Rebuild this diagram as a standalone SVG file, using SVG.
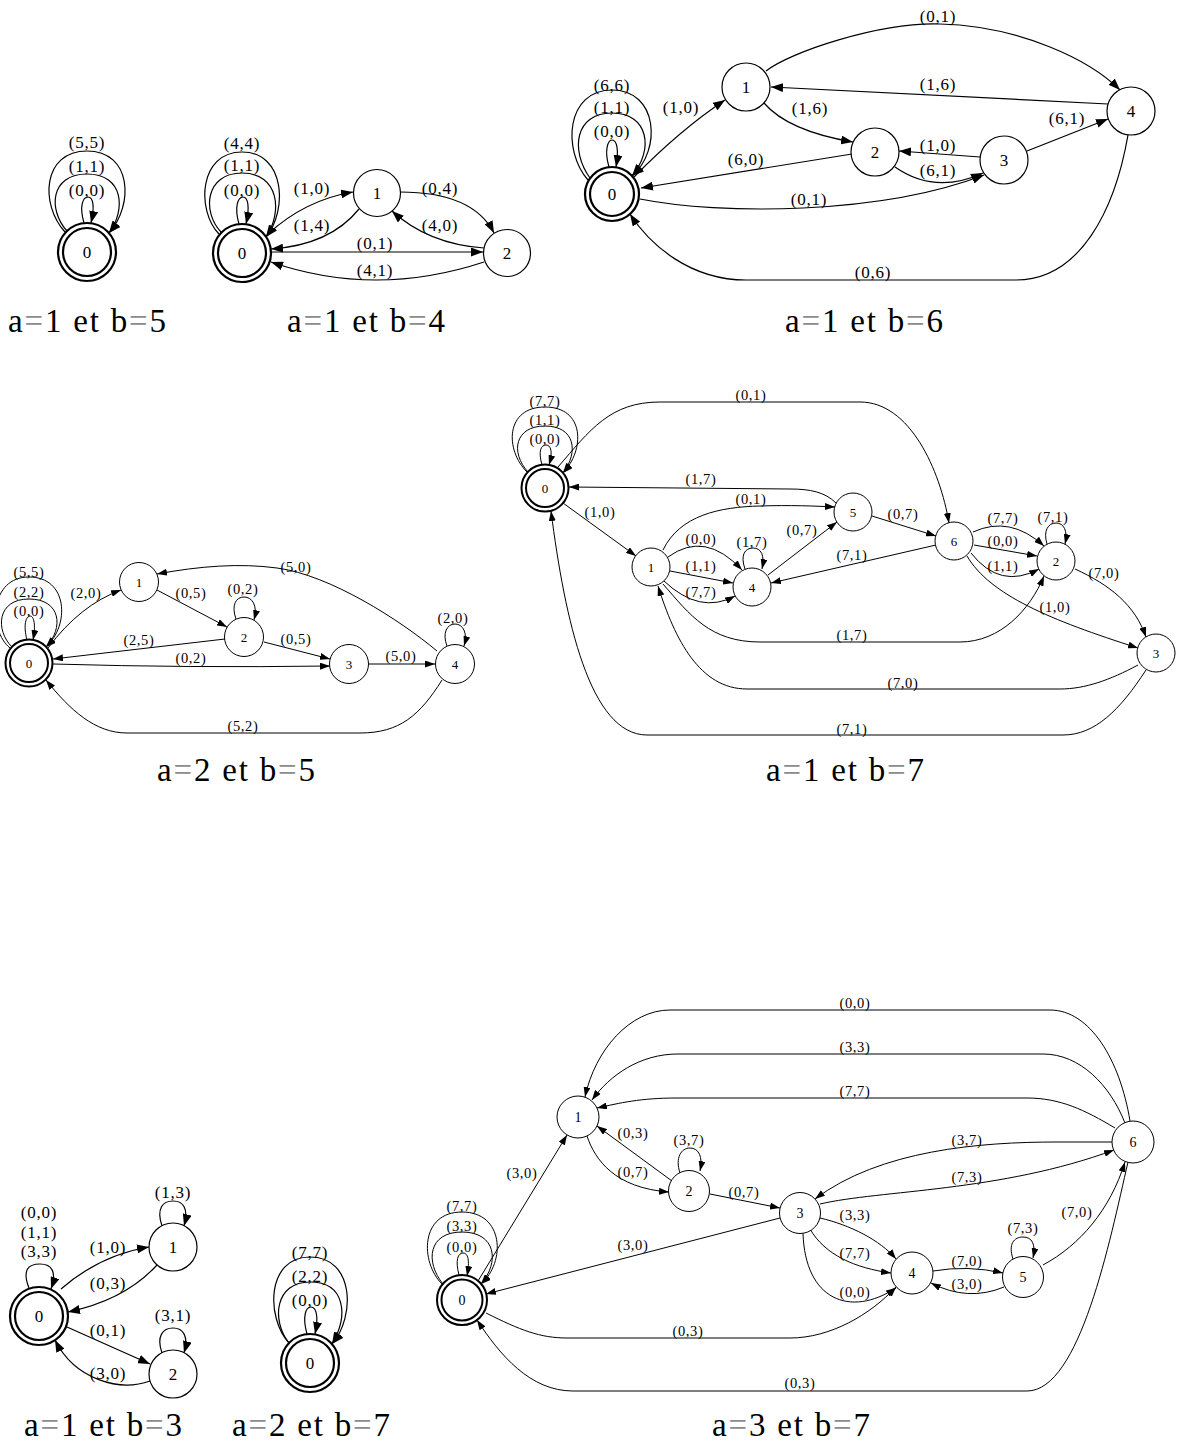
<svg xmlns="http://www.w3.org/2000/svg" width="1179" height="1449" viewBox="0 0 1179 1449">
<style>
.e{fill:none;stroke:#000;stroke-width:1.2;marker-end:url(#ab)}
.es{fill:none;stroke:#000;stroke-width:1;marker-end:url(#as)}
.n{fill:#fff;stroke:#000;stroke-width:1.2}
.ns{fill:#fff;stroke:#000;stroke-width:1}
.acc{fill:#fff;stroke:#000;stroke-width:2.2}
.accs{fill:#fff;stroke:#000;stroke-width:2}
.lb{font-family:"Liberation Serif",serif;font-size:17px;letter-spacing:0.8px;text-anchor:middle;fill:#000}
.ls{font-family:"Liberation Serif",serif;font-size:14.5px;letter-spacing:0.6px;text-anchor:middle;fill:#000}
.nl{font-family:"Liberation Serif",serif;font-size:17px;text-anchor:middle}
.nls{font-family:"Liberation Serif",serif;font-size:13px;text-anchor:middle}
.nlm{font-family:"Liberation Serif",serif;font-size:14px;text-anchor:middle}
.cap{font-family:"Liberation Serif",serif;font-size:33px;fill:#000}
.eq{fill:#8c8c8c}
</style>
<defs>
<marker id="ab" markerWidth="12" markerHeight="9" refX="12" refY="4.5" orient="auto" markerUnits="userSpaceOnUse"><path d="M0,0 L12,4.5 L0,9 z" fill="#000"/></marker>
<marker id="as" markerWidth="10" markerHeight="7" refX="10" refY="3.5" orient="auto" markerUnits="userSpaceOnUse"><path d="M0,0 L10,3.5 L0,7 z" fill="#000"/></marker>
</defs>
<rect width="1179" height="1449" fill="#fff"/>

<!-- Graph 1 : a=1 et b=5 -->
<g id="g1">
<g id="g1-edges">
<path class="e" d="M84,223 C79,206 83,197 88,197 C93,197 95,206 91,223"/>
<path class="e" d="M67,231 C48,210 50,174 87,174 C124,174 126,210 109,233"/>
<path class="e" d="M65,232 C40,205 42,151 87,151 C132,151 134,205 109,233"/>
<text class="lb" x="87" y="147.5">(5,5)</text>
<text class="lb" x="87" y="171.5">(1,1)</text>
<text class="lb" x="87" y="195.5">(0,0)</text>
</g>
<g id="g1-n0"><circle class="acc" cx="87" cy="252" r="29"/><circle class="acc" cx="87" cy="252" r="24"/><text class="nl" x="87" y="258">0</text></g>
<text class="cap" x="8" y="332" textLength="158" lengthAdjust="spacing">a<tspan class="eq">=</tspan>1 et b<tspan class="eq">=</tspan>5</text>
</g>

<!-- Graph 2 : a=1 et b=4 -->
<g id="g2">
<g id="g2-edges">
<path class="e" d="M239,224 C234,207 238,197 243,197 C248,197 250,207 246,224"/>
<path class="e" d="M221,232 C202,212 205,173 242,173 C279,173 283,212 266,237"/>
<path class="e" d="M219,234 C196,210 199,152 242,152 C285,152 288,210 266,237"/>
<path class="e" d="M268,234 Q305,200 353,192"/>
<path class="e" d="M359,209 Q330,245 271,249"/>
<path class="e" d="M400,192 Q473,192 494,233"/>
<path class="e" d="M484,248 Q428,244 392,211"/>
<path class="e" d="M271,252 L483,252"/>
<path class="e" d="M484,262 Q375,298 271,262"/>
<text class="lb" x="242" y="148.5">(4,4)</text>
<text class="lb" x="242" y="170.5">(1,1)</text>
<text class="lb" x="242" y="195.5">(0,0)</text>
<text class="lb" x="312" y="193.5">(1,0)</text>
<text class="lb" x="312" y="230.5">(1,4)</text>
<text class="lb" x="440" y="193.5">(0,4)</text>
<text class="lb" x="440" y="230.5">(4,0)</text>
<text class="lb" x="375" y="249">(0,1)</text>
<text class="lb" x="375" y="275.5">(4,1)</text>
</g>
<g id="g2-n0"><circle class="acc" cx="242" cy="253" r="29"/><circle class="acc" cx="242" cy="253" r="24"/><text class="nl" x="242" y="259">0</text></g>
<g id="g2-n1"><circle class="n" cx="377" cy="193" r="23.5"/><text class="nl" x="377" y="199">1</text></g>
<g id="g2-n2"><circle class="n" cx="507" cy="253" r="23.5"/><text class="nl" x="507" y="259">2</text></g>
<text class="cap" x="287" y="332" textLength="158" lengthAdjust="spacing">a<tspan class="eq">=</tspan>1 et b<tspan class="eq">=</tspan>4</text>
</g>

<!-- Graph 3 : a=1 et b=6 -->
<g id="g3">
<g id="g3-edges">
<path class="e" d="M609,167 C604,150 608,140 612,140 C617,140 619,150 616,167"/>
<path class="e" d="M590,178 C570,150 575,113 612,113 C649,113 654,150 632,176"/>
<path class="e" d="M588,180 C562,150 566,90 612,90 C658,90 662,150 632,176"/>
<path class="e" d="M634,177 Q680,130 725,100"/>
<path class="e" d="M766,71 C790,52 880,22 940,24 C1020,26 1090,60 1120,90"/>
<path class="e" d="M1108,104 L771,87"/>
<path class="e" d="M764,103 Q788,131 853,142"/>
<path class="e" d="M852,154 L641,188"/>
<path class="e" d="M980,157 L899,151"/>
<path class="e" d="M895,167 Q935,195 983,173"/>
<path class="e" d="M1027,151 L1108,119"/>
<path class="e" d="M640,199 C720,215 880,215 984,175"/>
<path class="e" d="M1128,135 C1115,210 1080,280 1016,280 L746,280 C690,280 650,245 630,214"/>
<text class="lb" x="612" y="90.5">(6,6)</text>
<text class="lb" x="612" y="112.5">(1,1)</text>
<text class="lb" x="612" y="137">(0,0)</text>
<text class="lb" x="681" y="112.5">(1,0)</text>
<text class="lb" x="938" y="22">(0,1)</text>
<text class="lb" x="938" y="89.5">(1,6)</text>
<text class="lb" x="810" y="113.5">(1,6)</text>
<text class="lb" x="746" y="164.5">(6,0)</text>
<text class="lb" x="938" y="150.5">(1,0)</text>
<text class="lb" x="938" y="175.5">(6,1)</text>
<text class="lb" x="1067" y="123.5">(6,1)</text>
<text class="lb" x="809" y="205">(0,1)</text>
<text class="lb" x="873" y="278">(0,6)</text>
</g>
<g id="g3-n0"><circle class="acc" cx="612" cy="194" r="27"/><circle class="acc" cx="612" cy="194" r="22"/><text class="nl" x="612" y="200">0</text></g>
<g id="g3-n1"><circle class="n" cx="746" cy="87" r="24"/><text class="nl" x="746" y="93">1</text></g>
<g id="g3-n2"><circle class="n" cx="875" cy="152" r="24"/><text class="nl" x="875" y="158">2</text></g>
<g id="g3-n3"><circle class="n" cx="1004" cy="160" r="24"/><text class="nl" x="1004" y="166">3</text></g>
<g id="g3-n4"><circle class="n" cx="1131" cy="111" r="24"/><text class="nl" x="1131" y="117">4</text></g>
<text class="cap" x="785" y="332" textLength="158" lengthAdjust="spacing">a<tspan class="eq">=</tspan>1 et b<tspan class="eq">=</tspan>6</text>
</g>

<!-- Graph 4 : a=2 et b=5 -->
<g id="g4">
<g id="g4-edges">
<path class="es" d="M27,640 C23,625 26,616 30,616 C34,616 36,625 33,640"/>
<path class="es" d="M12,647 C-5,630 -3,599 29,599 C61,599 64,628 46,647"/>
<path class="es" d="M10,648 C-12,630 -10,577 29,577 C68,577 70,625 46,647"/>
<path class="es" d="M48,648 Q80,605 121,590"/>
<path class="es" d="M157,590 L227,627"/>
<path class="es" d="M236,619 C231,605 236,597 244,597 C252,597 258,605 254,620"/>
<path class="es" d="M225,639 L53,659"/>
<path class="es" d="M53,664 Q190,668 330,666"/>
<path class="es" d="M264,642 L330,659"/>
<path class="es" d="M369,664 L435,664"/>
<path class="es" d="M447,646 C442,633 447,624 455,624 C463,624 468,633 464,646"/>
<path class="es" d="M437,651 C400,620 330,575 277,568 C240,563 200,566 157,574"/>
<path class="es" d="M442,680 C420,715 400,733 360,733 L127,733 C95,733 70,710 46,680"/>
<text class="ls" x="29" y="577">(5,5)</text>
<text class="ls" x="29" y="597">(2,2)</text>
<text class="ls" x="29" y="615.5">(0,0)</text>
<text class="ls" x="86" y="598">(2,0)</text>
<text class="ls" x="191" y="598">(0,5)</text>
<text class="ls" x="243" y="594">(0,2)</text>
<text class="ls" x="139" y="645">(2,5)</text>
<text class="ls" x="191" y="663">(0,2)</text>
<text class="ls" x="296" y="644">(0,5)</text>
<text class="ls" x="401" y="661">(5,0)</text>
<text class="ls" x="453" y="623">(2,0)</text>
<text class="ls" x="296" y="572">(5,0)</text>
<text class="ls" x="243" y="731">(5,2)</text>
</g>
<g id="g4-n0"><circle class="accs" cx="29" cy="663" r="23.5"/><circle class="accs" cx="29" cy="663" r="19"/><text class="nls" x="29" y="667.5">0</text></g>
<g id="g4-n1"><circle class="ns" cx="139" cy="582" r="19.5"/><text class="nls" x="139" y="586.5">1</text></g>
<g id="g4-n2"><circle class="ns" cx="244" cy="637" r="19.5"/><text class="nls" x="244" y="641.5">2</text></g>
<g id="g4-n3"><circle class="ns" cx="349" cy="664" r="19.5"/><text class="nls" x="349" y="668.5">3</text></g>
<g id="g4-n4"><circle class="ns" cx="455" cy="664" r="19.5"/><text class="nls" x="455" y="668.5">4</text></g>
<text class="cap" x="157" y="781" textLength="158" lengthAdjust="spacing">a<tspan class="eq">=</tspan>2 et b<tspan class="eq">=</tspan>5</text>
</g>

<!-- Graph 5 : a=1 et b=7 -->
<g id="g5">
<g id="g5-edges">
<path class="es" d="M542,465 C538,451 541,445 546,445 C551,445 553,452 549,465"/>
<path class="es" d="M528,472 C510,452 515,426 545,426 C575,426 579,452 563,473"/>
<path class="es" d="M527,472 C505,450 505,407 545,407 C585,407 585,450 563,473"/>
<path class="es" d="M558,467 C590,430 610,402 660,402 L860,402 C910,402 940,470 949,523"/>
<path class="es" d="M836,503 C825,492 810,489 790,489 L569,487"/>
<path class="es" d="M663,550 C680,515 720,507 760,506 C790,505 815,506 835,507"/>
<path class="es" d="M563,503 L636,556"/>
<path class="es" d="M668,557 Q705,530 742,570"/>
<path class="es" d="M670,571 L733,583"/>
<path class="es" d="M664,581 Q700,615 735,596"/>
<path class="es" d="M745,569 C740,555 745,548 753,548 C761,548 765,555 762,569"/>
<path class="es" d="M768,575 L837,522"/>
<path class="es" d="M936,545 L771,583"/>
<path class="es" d="M872,516 L936,536"/>
<path class="es" d="M973,532 Q1010,515 1044,546"/>
<path class="es" d="M974,545 L1037,556"/>
<path class="es" d="M971,553 Q1000,590 1039,569"/>
<path class="es" d="M1047,544 C1043,531 1048,523 1056,523 C1064,523 1068,531 1065,544"/>
<path class="es" d="M1075,569 C1110,585 1135,605 1146,637"/>
<path class="es" d="M967,556 C990,595 1050,620 1138,648"/>
<path class="es" d="M663,584 C690,615 710,642 760,642 L960,642 C1000,642 1030,610 1044,576"/>
<path class="es" d="M1138,665 C1110,680 1085,689 1060,689 L747,689 C700,689 675,640 658,586"/>
<path class="es" d="M1146,670 C1120,710 1095,735 1063,735 L647,735 C590,735 565,620 551,511"/>
<text class="ls" x="545" y="406">(7,7)</text>
<text class="ls" x="545" y="425">(1,1)</text>
<text class="ls" x="545" y="444">(0,0)</text>
<text class="ls" x="751" y="400">(0,1)</text>
<text class="ls" x="701" y="484">(1,7)</text>
<text class="ls" x="751" y="504">(0,1)</text>
<text class="ls" x="600" y="517">(1,0)</text>
<text class="ls" x="701" y="544">(0,0)</text>
<text class="ls" x="701" y="571">(1,1)</text>
<text class="ls" x="701" y="597">(7,7)</text>
<text class="ls" x="752" y="547">(1,7)</text>
<text class="ls" x="802" y="535">(0,7)</text>
<text class="ls" x="852" y="560">(7,1)</text>
<text class="ls" x="903" y="519">(0,7)</text>
<text class="ls" x="1003" y="523">(7,7)</text>
<text class="ls" x="1003" y="546">(0,0)</text>
<text class="ls" x="1003" y="571">(1,1)</text>
<text class="ls" x="1053" y="522">(7,1)</text>
<text class="ls" x="1104" y="578">(7,0)</text>
<text class="ls" x="1055" y="612">(1,0)</text>
<text class="ls" x="852" y="640">(1,7)</text>
<text class="ls" x="903" y="688">(7,0)</text>
<text class="ls" x="852" y="734">(7,1)</text>
</g>
<g id="g5-n0"><circle class="accs" cx="545" cy="488" r="23.5"/><circle class="accs" cx="545" cy="488" r="19"/><text class="nls" x="545" y="492.5">0</text></g>
<g id="g5-n1"><circle class="ns" cx="651" cy="567" r="19"/><text class="nls" x="651" y="571.5">1</text></g>
<g id="g5-n2"><circle class="ns" cx="1056" cy="561" r="19"/><text class="nls" x="1056" y="565.5">2</text></g>
<g id="g5-n3"><circle class="ns" cx="1156" cy="653" r="19"/><text class="nls" x="1156" y="657.5">3</text></g>
<g id="g5-n4"><circle class="ns" cx="752" cy="587" r="19"/><text class="nls" x="752" y="591.5">4</text></g>
<g id="g5-n5"><circle class="ns" cx="853" cy="512" r="19"/><text class="nls" x="853" y="516.5">5</text></g>
<g id="g5-n6"><circle class="ns" cx="954" cy="541" r="19"/><text class="nls" x="954" y="545.5">6</text></g>
<text class="cap" x="766" y="781" textLength="158" lengthAdjust="spacing">a<tspan class="eq">=</tspan>1 et b<tspan class="eq">=</tspan>7</text>
</g>

<!-- Graph 6 : a=1 et b=3 -->
<g id="g6">
<g id="g6-edges">
<path class="e" d="M29,1288 C22,1270 28,1264 40,1264 C52,1264 57,1272 51,1289"/>
<path class="e" d="M162,1226 C156,1208 163,1201 173,1201 C183,1201 189,1208 184,1226"/>
<path class="e" d="M162,1353 C156,1336 163,1328 173,1328 C183,1328 189,1336 184,1353"/>
<path class="e" d="M61,1289 Q100,1255 149,1247"/>
<path class="e" d="M157,1265 Q125,1300 68,1312"/>
<path class="e" d="M67,1327 L150,1364"/>
<path class="e" d="M150,1381 C120,1392 75,1380 55,1340"/>
<text class="lb" x="39" y="1217.5">(0,0)</text>
<text class="lb" x="39" y="1237.5">(1,1)</text>
<text class="lb" x="39" y="1256.5">(3,3)</text>
<text class="lb" x="173" y="1197.5">(1,3)</text>
<text class="lb" x="173" y="1320.5">(3,1)</text>
<text class="lb" x="108" y="1252.5">(1,0)</text>
<text class="lb" x="108" y="1288.5">(0,3)</text>
<text class="lb" x="108" y="1335.5">(0,1)</text>
<text class="lb" x="108" y="1378.5">(3,0)</text>
</g>
<g id="g6-n0"><circle class="acc" cx="39" cy="1316" r="29"/><circle class="acc" cx="39" cy="1316" r="24"/><text class="nl" x="39" y="1322">0</text></g>
<g id="g6-n1"><circle class="n" cx="173" cy="1247" r="24"/><text class="nl" x="173" y="1253">1</text></g>
<g id="g6-n2"><circle class="n" cx="173" cy="1374" r="24"/><text class="nl" x="173" y="1380">2</text></g>
<text class="cap" x="24" y="1436" textLength="158" lengthAdjust="spacing">a<tspan class="eq">=</tspan>1 et b<tspan class="eq">=</tspan>3</text>
</g>

<!-- Graph 7 : a=2 et b=7 -->
<g id="g7">
<g id="g7-edges">
<path class="e" d="M307,1334 C302,1316 306,1307 311,1307 C316,1307 319,1316 315,1334"/>
<path class="e" d="M289,1343 C271,1320 275,1282 310,1282 C345,1282 349,1315 332,1344"/>
<path class="e" d="M289,1343 C266,1318 266,1257 310,1257 C354,1257 356,1316 332,1344"/>
<text class="lb" x="310" y="1257.5">(7,7)</text>
<text class="lb" x="310" y="1281.5">(2,2)</text>
<text class="lb" x="310" y="1305.5">(0,0)</text>
</g>
<g id="g7-n0"><circle class="acc" cx="310" cy="1363" r="29"/><circle class="acc" cx="310" cy="1363" r="24"/><text class="nl" x="310" y="1369">0</text></g>
<text class="cap" x="232" y="1436" textLength="158" lengthAdjust="spacing">a<tspan class="eq">=</tspan>2 et b<tspan class="eq">=</tspan>7</text>
</g>

<!-- Graph 8 : a=3 et b=7 -->
<g id="g8">
<g id="g8-edges">
<path class="es" d="M459,1275 C455,1260 458,1253 463,1253 C468,1253 470,1260 467,1276"/>
<path class="es" d="M443,1284 C425,1262 428,1232 462,1232 C496,1232 500,1262 481,1284"/>
<path class="es" d="M442,1284 C420,1262 420,1212 462,1212 C504,1212 506,1262 481,1284"/>
<path class="es" d="M478,1281 L567,1135"/>
<path class="es" d="M1130,1121 C1120,1060 1090,1010 1050,1010 L670,1010 C630,1010 595,1050 585,1097"/>
<path class="es" d="M1125,1123 C1110,1085 1080,1054 1043,1054 L678,1054 C640,1054 610,1075 592,1100"/>
<path class="es" d="M1115,1128 C1085,1110 1060,1098 1027,1098 L677,1098 C640,1098 620,1103 597,1108"/>
<path class="es" d="M672,1181 L597,1126"/>
<path class="es" d="M587,1136 C595,1160 615,1188 669,1192"/>
<path class="es" d="M680,1173 C675,1158 681,1148 690,1148 C699,1148 703,1157 700,1171"/>
<path class="es" d="M710,1194 L780,1208"/>
<path class="es" d="M780,1218 L486,1294"/>
<path class="es" d="M486,1313 C520,1330 540,1338 567,1338 L790,1338 C830,1338 870,1315 896,1287"/>
<path class="es" d="M1128,1162 C1110,1240 1080,1391 1027,1391 L573,1391 C530,1391 500,1355 477,1320"/>
<path class="es" d="M820,1204 C880,1190 1000,1192 1114,1150"/>
<path class="es" d="M1112,1142 L1057,1142 C980,1142 880,1150 815,1199"/>
<path class="es" d="M820,1218 C850,1225 880,1240 896,1259"/>
<path class="es" d="M810,1229 C825,1255 855,1268 891,1273"/>
<path class="es" d="M803,1233 C805,1300 850,1318 896,1288"/>
<path class="es" d="M933,1271 Q968,1265 1003,1273"/>
<path class="es" d="M1004,1287 Q968,1302 931,1283"/>
<path class="es" d="M1013,1259 C1008,1244 1014,1237 1023,1237 C1032,1237 1036,1244 1033,1258"/>
<path class="es" d="M1043,1265 C1080,1245 1110,1210 1125,1162"/>
<text class="ls" x="462" y="1211">(7,7)</text>
<text class="ls" x="462" y="1231">(3,3)</text>
<text class="ls" x="462" y="1251.5">(0,0)</text>
<text class="ls" x="522" y="1178">(3,0)</text>
<text class="ls" x="855" y="1008">(0,0)</text>
<text class="ls" x="855" y="1052">(3,3)</text>
<text class="ls" x="855" y="1096">(7,7)</text>
<text class="ls" x="633" y="1138">(0,3)</text>
<text class="ls" x="633" y="1177">(0,7)</text>
<text class="ls" x="689" y="1145">(3,7)</text>
<text class="ls" x="744" y="1197">(0,7)</text>
<text class="ls" x="633" y="1250">(3,0)</text>
<text class="ls" x="688" y="1336">(0,3)</text>
<text class="ls" x="800" y="1388">(0,3)</text>
<text class="ls" x="967" y="1181.5">(7,3)</text>
<text class="ls" x="967" y="1145">(3,7)</text>
<text class="ls" x="855" y="1220">(3,3)</text>
<text class="ls" x="855" y="1258">(7,7)</text>
<text class="ls" x="855" y="1297">(0,0)</text>
<text class="ls" x="967" y="1266">(7,0)</text>
<text class="ls" x="967" y="1289">(3,0)</text>
<text class="ls" x="1023" y="1233">(7,3)</text>
<text class="ls" x="1077" y="1217">(7,0)</text>
</g>
<g id="g8-n0"><circle class="accs" cx="462" cy="1300" r="25"/><circle class="accs" cx="462" cy="1300" r="20.5"/><text class="nlm" x="462" y="1305">0</text></g>
<g id="g8-n1"><circle class="ns" cx="578" cy="1117" r="21"/><text class="nlm" x="578" y="1122">1</text></g>
<g id="g8-n2"><circle class="ns" cx="689" cy="1191" r="20.5"/><text class="nlm" x="689" y="1196">2</text></g>
<g id="g8-n3"><circle class="ns" cx="800" cy="1213" r="20.5"/><text class="nlm" x="800" y="1218">3</text></g>
<g id="g8-n4"><circle class="ns" cx="912" cy="1273" r="21"/><text class="nlm" x="912" y="1278">4</text></g>
<g id="g8-n5"><circle class="ns" cx="1023" cy="1277" r="20.5"/><text class="nlm" x="1023" y="1282">5</text></g>
<g id="g8-n6"><circle class="ns" cx="1133" cy="1142" r="21"/><text class="nlm" x="1133" y="1147">6</text></g>
<text class="cap" x="712" y="1436" textLength="158" lengthAdjust="spacing">a<tspan class="eq">=</tspan>3 et b<tspan class="eq">=</tspan>7</text>
</g>
</svg>
